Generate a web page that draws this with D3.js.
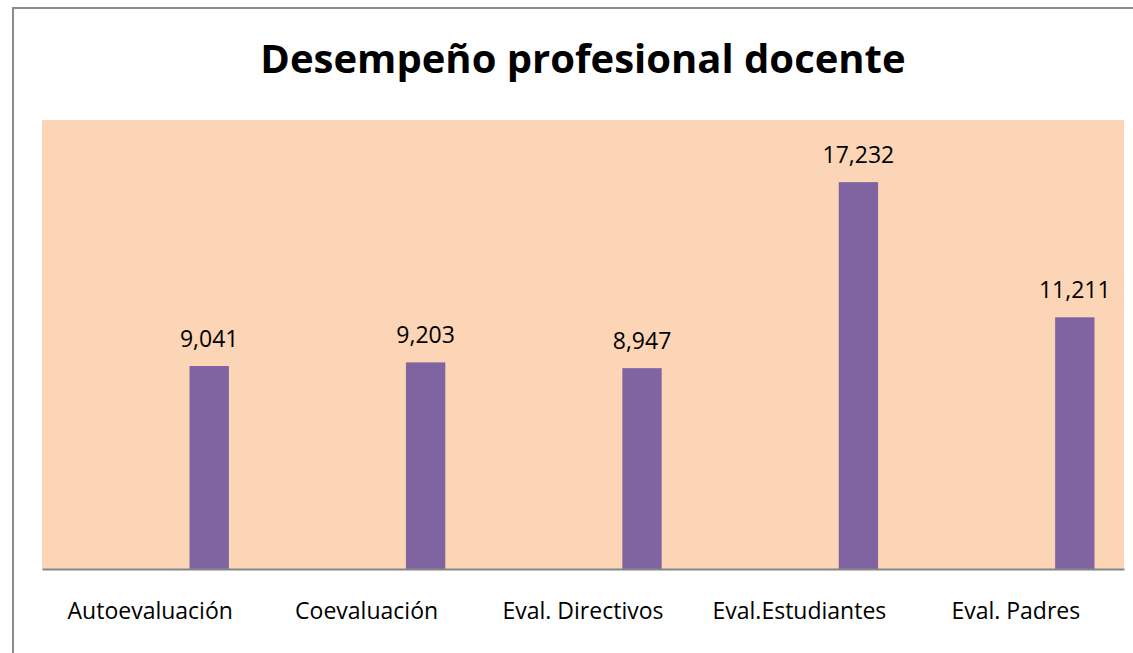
<!DOCTYPE html>
<html>
<head>
<meta charset="utf-8">
<script src="https://cdn.jsdelivr.net/npm/d3@7"></script>
<style>
    html, body { margin: 0; background: #fff; overflow: hidden; }
    svg { display: block; }
    text { font-family: "Open Sans", "Noto Sans", sans-serif; fill: #000; }
</style>
</head>
<body>
<div id="chart"></div>
<script>
// chart data
const categories = ["Autoevaluación", "Coevaluación", "Eval. Directivos", "Eval.Estudiantes", "Eval. Padres"]
const values = [9041, 9203, 8947, 17232, 11211]
// the sheet had 4 series per group, only the last one is filled
const seriesSlots = ["s1", "s2", "s3", "s4"]
const shownSeries = "s4"
const titleText = "Desempeño profesional docente"

const W = 1133, H = 653
const plot = {left: 42, right: 1124, top: 120, bottom: 569}

let svg = d3.select("#chart").append("svg")
    .attr("width", W)
    .attr("height", H)

// outer chart border: only the top and left edges are inside the picture
svg.append("path")
    .attr("d", d3.line()([[W + 10, 8], [13, 8], [13, H + 10]]))
    .attr("fill", "none")
    .attr("stroke", "#8c8c8c")
    .attr("stroke-width", 2)

// plot area background
svg.append("rect")
    .attr("x", plot.left).attr("y", plot.top)
    .attr("width", plot.right - plot.left)
    .attr("height", plot.bottom - plot.top)
    .attr("fill", "#fbd5b5")

// scales
let x0 = d3.scaleBand()
    .domain(categories)
    .range([plot.left, plot.right])
    .paddingInner(0).paddingOuter(0)

let x1 = d3.scaleBand()
    .domain(seriesSlots)
    .range([0, x0.bandwidth()])
    .paddingInner(0)
    .paddingOuter(0.75) // gap width 150%

let y = d3.scaleLinear()
    .domain([0, 20000])
    .range([plot.bottom, plot.top])

let fmt = d3.format(",")

let data = categories.map((c, i) => ({cat: c, value: values[i]}))

// bars
svg.selectAll("rect.bar")
    .data(data)
    .join("rect")
    .attr("class", "bar")
    .attr("x", d => x0(d.cat) + x1(shownSeries))
    .attr("y", d => y(d.value))
    .attr("width", x1.bandwidth())
    .attr("height", d => y(0) - y(d.value))
    .attr("fill", "#8064a2")

// data labels
svg.selectAll("text.lbl")
    .data(data)
    .join("text")
    .attr("class", "lbl")
    .attr("x", d => x0(d.cat) + x1(shownSeries) + x1.bandwidth() / 2)
    .attr("y", d => y(d.value) - 19)
    .attr("text-anchor", "middle")
    .attr("font-size", "23px")
    .text(d => fmt(d.value))

// x axis (no ticks, labels centred on categories)
let xAxis = d3.axisBottom(x0).tickSize(0)
let gx = svg.append("g")
    .attr("transform", `translate(0,${plot.bottom})`)
    .call(xAxis)
gx.select(".domain").attr("stroke", "#868686").attr("stroke-width", 2)
gx.selectAll("text")
    .attr("y", 50)
    .attr("dy", 0)
    .style("font-family", '"Open Sans", "Noto Sans", sans-serif')
    .attr("font-size", "23px")
    .attr("fill", "#000")

// title
svg.append("text")
    .attr("x", (plot.left + plot.right) / 2)
    .attr("y", 73)
    .attr("text-anchor", "middle")
    .attr("font-weight", "bold")
    .attr("font-size", "40px")
    .text(titleText)
</script>
</body>
</html>
